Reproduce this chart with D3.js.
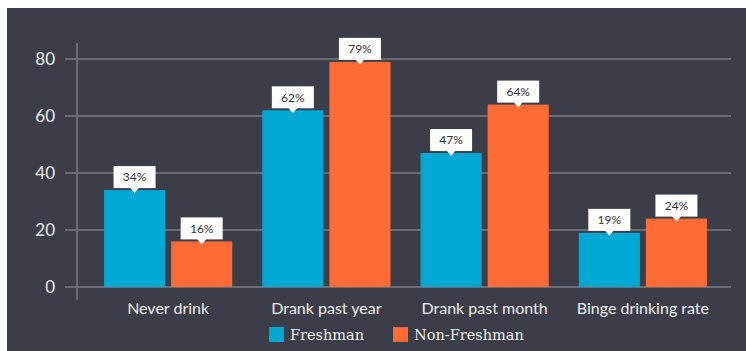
<!DOCTYPE html>
<html><head><meta charset="utf-8">
<script src="https://cdnjs.cloudflare.com/ajax/libs/d3/7.8.5/d3.min.js"></script>
<style>html,body{margin:0;padding:0;background:#fff;}svg{display:block;}</style>
</head><body>
<script>
const categories = ["Never drink", "Drank past year", "Drank past month", "Binge drinking rate"];
const seriesNames = ["Freshman", "Non-Freshman"];
const freshman = [34, 62, 47, 19];
const nonFreshman = [16, 79, 64, 24];
const yTicks = [0, 20, 40, 60, 80];
const colors = ["#00a9d3", "#ff6b35"];

const W = 746, H = 351;
const svg = d3.select("body").append("svg").attr("width", W).attr("height", H);
svg.append("rect").attr("x", 7).attr("y", 8).attr("width", W - 7).attr("height", H - 8).attr("fill", "#3b3e48");

const y = d3.scaleLinear().domain([0, 80]).range([287, 59]);
const x0 = d3.scaleBand().domain(categories).range([89, 722]).paddingInner(0.19).paddingOuter(0.095);
const x1 = d3.scaleBand().domain(seriesNames).range([0, x0.bandwidth()]).paddingInner(0.09);

// gridlines
const gridColor = "#696c74";
svg.append("g").selectAll("line").data(yTicks).join("line")
  .attr("x1", 65).attr("x2", 731)
  .attr("y1", d => y(d)).attr("y2", d => y(d))
  .attr("stroke", gridColor).attr("stroke-width", 2);
svg.append("line").attr("x1", 77).attr("x2", 77).attr("y1", 43).attr("y2", 300)
  .attr("stroke", gridColor).attr("stroke-width", 2);

// y labels
svg.append("g").selectAll("text").data(yTicks).join("text")
  .attr("x", 55).attr("y", d => y(d)).attr("dy", "0.35em")
  .attr("text-anchor", "end").attr("fill", "#eeeeee")
  .attr("font-family", "Lato, sans-serif").attr("font-size", 17)
  .text(d => d);

const data = categories.map((c, i) => ({cat: c, vals: [
  {s: seriesNames[0], v: freshman[i], c: colors[0]},
  {s: seriesNames[1], v: nonFreshman[i], c: colors[1]}]}));

const groups = svg.append("g").selectAll("g").data(data).join("g")
  .attr("transform", d => `translate(${x0(d.cat)},0)`);

groups.selectAll("rect").data(d => d.vals).join("rect")
  .attr("x", d => x1(d.s)).attr("width", x1.bandwidth())
  .attr("y", d => y(d.v)).attr("height", d => y(0) - y(d.v))
  .attr("fill", d => d.c);

// label boxes
const lab = groups.selectAll("g.lab").data(d => d.vals).join("g").attr("class", "lab")
  .attr("transform", d => `translate(${x1(d.s) + x1.bandwidth() / 2},${y(d.v)})`);
lab.append("rect").attr("x", -21).attr("y", -24).attr("width", 42).attr("height", 22)
  .attr("fill", "#ffffff");
lab.append("path").attr("d", "M-5,-3 L5,-3 L0,3 Z").attr("fill", "#ffffff");
lab.append("text").attr("x", 0).attr("y", -13).attr("dy", "0.35em")
  .attr("text-anchor", "middle").attr("fill", "#333333")
  .attr("font-family", "Lato, sans-serif").attr("font-size", 12)
  .text(d => d.v + "%");

// category labels
svg.append("g").selectAll("text").data(categories).join("text")
  .attr("x", d => x0(d) + x0.bandwidth() / 2).attr("y", 308).attr("dy", "0.35em")
  .attr("text-anchor", "middle").attr("fill", "#eeeeee")
  .attr("font-family", "Lato, sans-serif").attr("font-size", 16)
  .text(d => d);

// legend
const legX = [269, 393];
const leg = svg.append("g").selectAll("g").data(seriesNames).join("g")
  .attr("transform", (d, i) => `translate(${legX[i]},327)`);
leg.append("rect").attr("width", 15).attr("height", 15).attr("fill", (d, i) => colors[i]);
leg.append("text").attr("x", 21).attr("y", 8).attr("dy", "0.35em")
  .attr("fill", "#eeeeee").attr("font-family", "'DejaVu Serif', serif").attr("font-size", 14.5)
  .text(d => d);
</script>
</body></html>
